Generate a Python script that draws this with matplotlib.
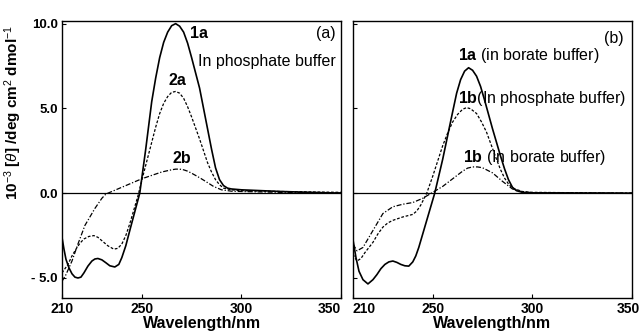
import matplotlib
matplotlib.use('Agg')
from matplotlib import pyplot as plt
from matplotlib import transforms

# panel (a): phosphate buffer
wl_1a = [210, 211, 212, 213.5, 215, 216.5, 218, 219.5, 221, 223, 225, 226.5, 228, 230, 232, 234,
         236.5, 238.5, 240, 242, 244, 246.5, 249, 252, 255, 257, 259, 261, 263, 265, 267,
         269, 271, 273, 275, 277, 279, 281, 283, 285, 287, 289, 291, 293, 295, 300, 310,
         320, 335, 350]
cd_1a = [-2.6, -3.3, -3.9, -4.4, -4.75, -4.95, -5.0, -4.95, -4.7, -4.3, -4.0, -3.88, -3.85, -3.93, -4.1, -4.28,
         -4.35, -4.2, -3.8, -3.1, -2.2, -1.1, 0.0, 2.6, 5.4, 6.8, 8.0, 8.9, 9.5, 9.88, 10.0,
         9.85, 9.5, 8.85, 8.0, 7.1, 6.2, 5.0, 3.8, 2.6, 1.5, 0.8, 0.45, 0.3, 0.25, 0.2, 0.15,
         0.1, 0.05, 0.0]

wl_2a = [210, 213, 215, 217, 219, 221, 223.5, 226, 228, 230, 233, 236, 238, 240, 242, 244, 246,
         248, 251, 253, 255, 257, 259, 261, 263, 265, 267, 269, 271, 273, 275, 277, 279, 281,
         283, 285, 287, 289, 291, 295, 300, 320, 350]
cd_2a = [-4.7, -4.2, -3.7, -3.3, -2.95, -2.7, -2.55, -2.5, -2.6, -2.8, -3.1, -3.3, -3.25, -3.0, -2.5, -1.8, -1.0,
         -0.2, 1.2, 2.1, 3.0, 3.9, 4.7, 5.3, 5.7, 5.95, 6.0, 5.9, 5.6, 5.1, 4.5, 3.85, 3.2, 2.5,
         1.8, 1.25, 0.8, 0.5, 0.3, 0.2, 0.15, 0.1, 0.05]

wl_2b = [210, 212, 215, 218, 221.5, 226.5, 230, 232, 236, 240, 245, 250, 255, 260, 263, 265, 267,
         269, 271, 273, 275, 277, 279.5, 282, 286, 290, 295, 300, 320, 350]
cd_2b = [-5.2, -4.8, -4.0, -3.0, -1.9, -0.9, -0.3, -0.05, 0.15, 0.35, 0.6, 0.85, 1.05, 1.25, 1.33, 1.38, 1.42,
         1.42, 1.38, 1.3, 1.18, 1.05, 0.88, 0.7, 0.4, 0.2, 0.12, 0.1, 0.05, 0.02]

# panel (b)
wl_1a_bor = [210, 211.5, 213, 215, 217.5, 220, 222, 224, 226, 228, 230, 232, 234, 236, 238, 240,
             241.5, 243, 245, 248, 251, 253, 255, 257.5, 260, 262, 264, 266, 268, 270, 272, 274,
             276, 278, 280, 282, 284, 286, 288, 290, 292, 295, 300, 350]
cd_1a_bor = [-2.75, -3.8, -4.6, -5.1, -5.35, -5.1, -4.8, -4.45, -4.2, -4.05, -4.0, -4.08, -4.2, -4.28, -4.3, -4.05,
             -3.7, -3.2, -2.4, -1.2, 0.0, 1.0, 2.0, 3.4, 4.8, 5.9, 6.7, 7.2, 7.4, 7.25, 6.9, 6.3,
             5.5, 4.65, 3.8, 3.0, 2.2, 1.45, 0.8, 0.35, 0.15, 0.05, 0.02, 0.0]

wl_1b_pho = [210, 212, 214, 216, 218, 220, 222.5, 225, 227.5, 230, 235, 240, 242, 244, 247, 250,
             252.5, 255, 257.5, 260, 262.5, 265, 267, 269, 272, 274.5, 277, 279.5, 282, 284,
             286, 288, 290, 295, 300, 350]
cd_1b_pho = [-3.6, -4.0, -3.85, -3.5, -3.2, -2.9, -2.4, -2.0, -1.75, -1.6, -1.4, -1.25, -1.05, -0.7, 0.0, 1.0,
             1.9, 2.8, 3.55, 4.2, 4.65, 4.95, 5.05, 4.98, 4.7, 4.2, 3.6, 2.8, 2.0, 1.4,
             0.9, 0.55, 0.3, 0.1, 0.05, 0.0]

wl_1b_bor = [210, 212, 215, 220, 225, 230, 235, 240, 245, 250, 255, 260, 265, 267.5, 270, 272.5,
             275, 280, 285, 290, 295, 300, 350]
cd_1b_bor = [-3.0, -3.4, -3.2, -2.2, -1.2, -0.8, -0.65, -0.55, -0.3, 0.05, 0.4, 0.85, 1.3, 1.48, 1.55, 1.55,
             1.5, 1.2, 0.7, 0.25, 0.08, 0.03, 0.0]

x_ticks = [210, 250, 300, 350]
y_ticks = [-5, 0, 5, 10]
y_labels = ['- 5.0', '0.0', '5.0', '10.0']

plt.rcParams['mathtext.fontset'] = 'custom'
plt.rcParams['mathtext.rm'] = 'Liberation Sans'
plt.rcParams['mathtext.it'] = 'Liberation Sans:italic'
plt.rcParams['mathtext.bf'] = 'Liberation Sans:bold'

bold = dict(fontfamily='Liberation Sans', fontweight='bold')
plain = dict(fontfamily='Liberation Sans')

fig = plt.figure(figsize=(6.41, 3.34), dpi=100)
ax_a = fig.add_axes([0.0967, 0.1078, 0.4355, 0.829])
ax_b = fig.add_axes([0.5507, 0.1078, 0.4353, 0.829])

dotted = (0, (2.2, 1.4))
dashdot = (0, (4, 1.5, 1, 1.5))

ax_a.plot(wl_1a, cd_1a, color='black', lw=1.2)
ax_a.plot(wl_2a, cd_2a, color='black', lw=0.9, linestyle=dotted)
ax_a.plot(wl_2b, cd_2b, color='black', lw=0.9, linestyle=dashdot)

ax_b.plot(wl_1a_bor, cd_1a_bor, color='black', lw=1.2)
ax_b.plot(wl_1b_pho, cd_1b_pho, color='black', lw=0.9, linestyle=dotted)
ax_b.plot(wl_1b_bor, cd_1b_bor, color='black', lw=0.9, linestyle=dashdot)

for ax in (ax_a, ax_b):
    ax.axhline(0, color='black', lw=0.9)
    ax.set_xlim(210, 350)
    ax.set_ylim(-6.18, 10.15)
    ax.set_xticks(x_ticks)
    ax.set_yticks(y_ticks)
    ax.tick_params(direction='in', length=3, width=0.8, pad=3)
    for lab in ax.get_xticklabels():
        lab.set_fontfamily('Liberation Sans')
        lab.set_fontweight('bold')
        lab.set_fontsize(10)
    ax.set_xlabel('Wavelength/nm', fontsize=11.5, labelpad=0, **bold)
    for s in ax.spines.values():
        s.set_linewidth(1.0)

# keep "350 210" apart at the panel join
ax_a.get_xticklabels()[-1].set_horizontalalignment('right')
ax_b.get_xticklabels()[0].set_horizontalalignment('left')
shift = transforms.ScaledTranslation(-4 / 100, 0, fig.dpi_scale_trans)
last = ax_b.get_xticklabels()[-1]
last.set_transform(last.get_transform() + shift)

ax_a.set_yticklabels(y_labels, fontsize=9.5, **bold)
ax_b.set_yticklabels([])
ax_a.set_ylabel(r'10$^{-3}$ [$\theta$] /deg cm$^{2}$ dmol$^{-1}$', fontsize=11, **bold)
ax_a.yaxis.set_label_coords(-0.135, 0.67)

# panel (a) labels
ax_a.text(278.6, 9.4, '1a', fontsize=11.5, ha='center', va='center', **bold)
ax_a.text(342.5, 9.4, '(a)', fontsize=11.5, ha='center', va='center', **plain)
ax_a.text(278.2, 7.75, 'In phosphate buffer', fontsize=11.5, ha='left', va='center', **plain)
ax_a.text(267.8, 6.66, '2a', fontsize=11.5, ha='center', va='center', **bold)
ax_a.text(269.9, 2.06, '2b', fontsize=11.5, ha='center', va='center', **bold)

# panel (b) labels
ax_b.text(341.0, 9.1, '(b)', fontsize=11.5, ha='center', va='center', **plain)
ax_b.text(262.8, 8.1, r'$\mathbf{1a}$ (in borate buffer)', fontsize=11.5, ha='left', va='center', **plain)
ax_b.text(262.8, 5.6, r'$\mathbf{1b}$(In phosphate buffer)', fontsize=11.5, ha='left', va='center', **plain)
ax_b.text(265.3, 2.1, r'$\mathbf{1b}$ (In borate buffer)', fontsize=11.5, ha='left', va='center', **plain)

fig.savefig('out.png', dpi=100)
